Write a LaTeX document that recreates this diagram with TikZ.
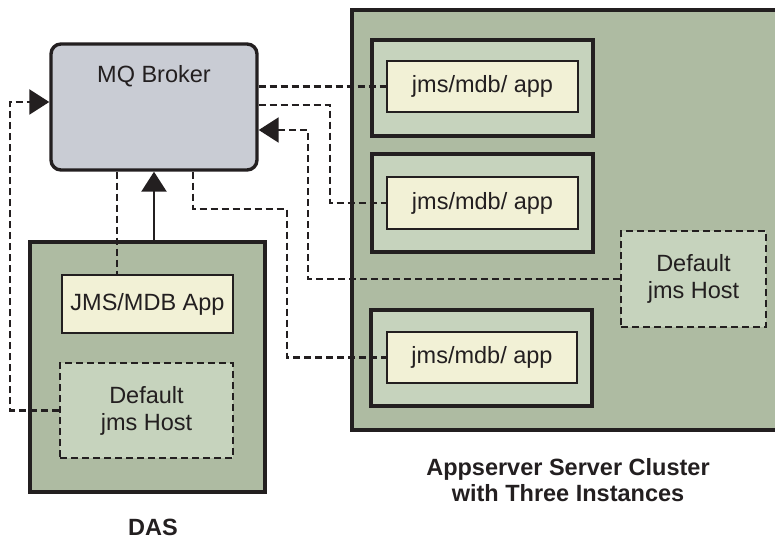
\documentclass[tikz,border=0pt]{standalone}
\usepackage{fontspec}
\setmainfont{Liberation Sans}
\usetikzlibrary{arrows.meta}
\definecolor{ink}{HTML}{231F20}
\definecolor{brokerfill}{HTML}{C9CCD4}
\definecolor{outerfill}{HTML}{AEBBA2}
\definecolor{instfill}{HTML}{C6D3BD}
\definecolor{appfill}{HTML}{F2F1D6}
\tikzset{
  every node/.style={font=\fontsize{23.5}{27}\selectfont, text=ink, inner sep=0pt, align=center},
  brokerbox/.style={draw=ink, line width=3.4pt, fill=brokerfill, rounded corners=10pt},
  outerbox/.style={draw=ink, line width=3.4pt, fill=outerfill},
  instbox/.style={draw=ink, line width=3.4pt, fill=instfill},
  appbox/.style={draw=ink, line width=2.4pt, fill=appfill},
  hostbox/.style={draw=ink, line width=2.3pt, fill=instfill, dash pattern=on 7pt off 4pt},
  dashline/.style={draw=ink, line width=2.3pt, dash pattern=on 7pt off 4pt},
  solidline/.style={draw=ink, line width=2.4pt},
  tip/.style={-{Triangle[length=20pt,width=25pt]}},
  biglabel/.style={font=\bfseries\fontsize{23.5}{25.5}\selectfont},
}
\begin{document}
\begin{tikzpicture}[x=1pt,y=-1pt]
\useasboundingbox (0,0) rectangle (775,540);
% containers
\node[outerbox, minimum width=428, minimum height=420] (cluster) at (566,220) {};
\node[brokerbox, minimum width=206, minimum height=126] (broker) at (154,107) {};
\node (brokertext) at (154,76) {MQ Broker};
\node[outerbox, minimum width=235, minimum height=250] (das) at (147.5,367) {};
\node[appbox, minimum width=171, minimum height=58] (jmsapp) at (147.5,304) {JMS/MDB App};
\node[hostbox, minimum width=173, minimum height=95] (dashost) at (146.5,410.5) {Default\\jms Host};
\node[biglabel] (daslabel) at (153,527) {DAS};
% instances
\node[instbox, minimum width=221, minimum height=96] (inst1) at (482.5,88) {};
\node[appbox, minimum width=191, minimum height=51] (app1) at (482.5,86.5) {jms/mdb/ app};
\node[instbox, minimum width=221, minimum height=98] (inst2) at (482.5,203) {};
\node[appbox, minimum width=191, minimum height=52] (app2) at (482.5,203) {jms/mdb/ app};
\node[instbox, minimum width=221, minimum height=96] (inst3) at (481.5,358) {};
\node[appbox, minimum width=190, minimum height=51] (app3) at (482,357.5) {jms/mdb/ app};
\node[hostbox, minimum width=145, minimum height=96] (chost) at (693.5,279) {Default\\jms Host};
\node[biglabel] (clusterlabel) at (568,480) {Appserver Server Cluster\\with Three Instances};
% helper coordinates
\coordinate (t1) at (10,102);
\coordinate (t2) at (117,0);
\coordinate (t5) at (330,105);
\coordinate (t6) at (308,130);
\coordinate (t7a) at (193,209);
\coordinate (t7b) at (287,209);
% connectors
\draw[dashline, tip] (dashost.west) -| (t1) -- (broker.west |- t1);
\draw[dashline] (broker.south -| t2) -- (jmsapp.north -| t2);
\draw[solidline, tip] (das.north -| broker.south) -- (broker.south);
\draw[dashline] (broker.east |- app1.west) -- (app1.west);
\draw[dashline] (broker.east |- t5) -- (t5) |- (app2.west);
\draw[dashline, tip] (chost.west) -| (t6) -- (broker.east |- t6);
\draw[dashline] (broker.south -| t7a) -- (t7a) -- (t7b) |- (app3.west);
\end{tikzpicture}
\end{document}
